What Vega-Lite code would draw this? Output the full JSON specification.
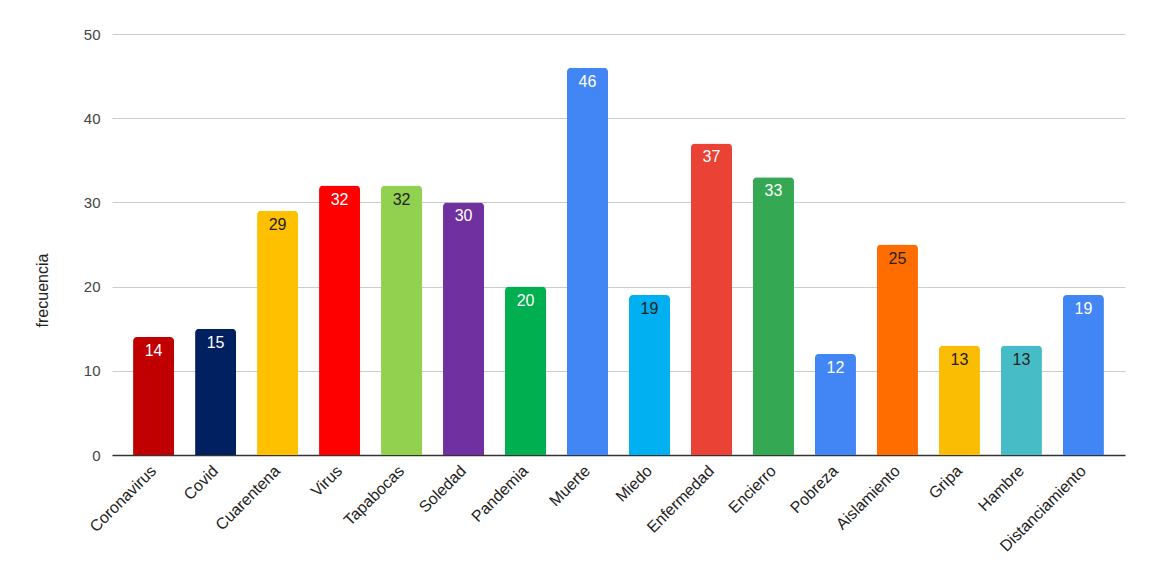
{
  "$schema": "https://vega.github.io/schema/vega-lite/v6.json",
  "width": 1013,
  "height": 421,
  "autosize": {"type": "none"},
  "padding": {"left": 112, "top": 34, "right": 32, "bottom": 132},
  "background": "white",
  "config": {
    "view": {"stroke": null},
    "font": "Liberation Sans"
  },
  "data": {
    "values": [
      {"palabra": "Coronavirus", "frecuencia": 14},
      {"palabra": "Covid", "frecuencia": 15},
      {"palabra": "Cuarentena", "frecuencia": 29},
      {"palabra": "Virus", "frecuencia": 32},
      {"palabra": "Tapabocas", "frecuencia": 32},
      {"palabra": "Soledad", "frecuencia": 30},
      {"palabra": "Pandemia", "frecuencia": 20},
      {"palabra": "Muerte", "frecuencia": 46},
      {"palabra": "Miedo", "frecuencia": 19},
      {"palabra": "Enfermedad", "frecuencia": 37},
      {"palabra": "Encierro", "frecuencia": 33},
      {"palabra": "Pobreza", "frecuencia": 12},
      {"palabra": "Aislamiento", "frecuencia": 25},
      {"palabra": "Gripa", "frecuencia": 13},
      {"palabra": "Hambre", "frecuencia": 13},
      {"palabra": "Distanciamiento", "frecuencia": 19}
    ]
  },
  "encoding": {
    "x": {
      "field": "palabra",
      "type": "nominal",
      "sort": null,
      "scale": {"paddingInner": 0.338, "paddingOuter": 0.34},
      "axis": {
        "title": null,
        "labelAngle": -45,
        "labelAlign": "right",
        "labelBaseline": "middle",
        "labelFontSize": 16,
        "labelColor": "#222222",
        "labelPadding": 13,
        "ticks": false,
        "domainColor": "#333333",
        "domainWidth": 1.5
      }
    },
    "y": {
      "field": "frecuencia",
      "type": "quantitative",
      "scale": {"domain": [0, 50]},
      "axis": {
        "title": "frecuencia",
        "values": [0, 10, 20, 30, 40, 50],
        "domain": false,
        "ticks": false,
        "gridColor": "#cccccc",
        "labelFontSize": 15,
        "labelColor": "#444444",
        "labelPadding": 12,
        "titleFontSize": 16,
        "titleFontWeight": "normal",
        "titleColor": "#222222",
        "titleX": -70,
        "titleY": 256,
        "titleAngle": -90,
        "titleAlign": "center",
        "titleBaseline": "middle"
      }
    }
  },
  "layer": [
    {
      "mark": {"type": "bar", "cornerRadiusTopLeft": 4, "cornerRadiusTopRight": 4},
      "encoding": {
        "color": {
          "field": "palabra",
          "type": "nominal",
          "legend": null,
          "scale": {
            "domain": ["Coronavirus", "Covid", "Cuarentena", "Virus", "Tapabocas", "Soledad", "Pandemia", "Muerte", "Miedo", "Enfermedad", "Encierro", "Pobreza", "Aislamiento", "Gripa", "Hambre", "Distanciamiento"],
            "range": ["#c00000", "#002060", "#ffc000", "#ff0000", "#92d050", "#7030a0", "#00b050", "#4285f4", "#00b0f0", "#ea4335", "#34a853", "#4285f4", "#ff6d01", "#fbbc04", "#46bdc6", "#4285f4"]
          }
        }
      }
    },
    {
      "mark": {"type": "text", "baseline": "middle", "dy": 14, "fontSize": 16},
      "encoding": {
        "text": {"field": "frecuencia", "type": "quantitative"},
        "color": {
          "condition": {
            "test": "indexof(['Cuarentena', 'Tapabocas', 'Miedo', 'Aislamiento', 'Gripa', 'Hambre'], datum.palabra) >= 0",
            "value": "#222222"
          },
          "value": "#ffffff"
        }
      }
    }
  ]
}
